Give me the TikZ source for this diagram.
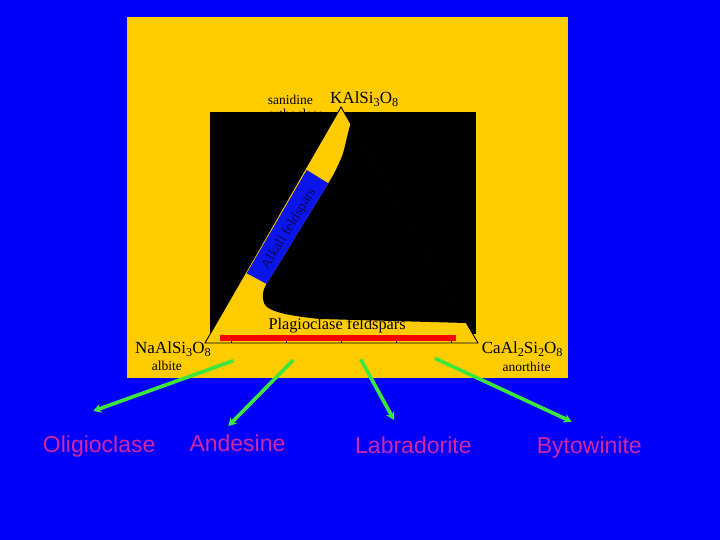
\documentclass[tikz,border=0pt]{standalone}
\usepackage{fontspec}
\setmainfont{Liberation Serif}
\newfontfamily\arialf{Liberation Sans}
\usetikzlibrary{arrows.meta}
\definecolor{bgblue}{RGB}{0,0,250}
\definecolor{gold}{RGB}{255,204,0}
\definecolor{bandblue}{RGB}{10,20,235}
\definecolor{garrow}{RGB}{60,230,60}
\definecolor{mag}{RGB}{205,40,165}
\definecolor{navy}{RGB}{10,10,90}
\newcommand\sbs[1]{\raisebox{-0.4ex}{\scalebox{0.72}{#1}}}
\newcommand\fs[1]{\fontsize{#1}{#1}\selectfont}
\tikzset{
  serif/.style={inner sep=0pt, text=black},
  lab/.style={inner sep=0pt, text=mag, font=\arialf\fs{23}, anchor=base west},
  garr/.style={draw=garrow, line width=3.6pt, -{Stealth[length=8pt,width=9pt]}},
}
\begin{document}
\begin{tikzpicture}[x=1pt,y=-1pt]
\useasboundingbox (0,0) rectangle (720,540);
\fill[bgblue] (0,0) rectangle (720,540);
\fill[gold] (127,17) rectangle (568,378);
% orthoclase label (mostly hidden)
\node[serif, anchor=base west, font=\fs{13.5}] (orth) at (268,119) {orthoclase};
% black rectangle
\fill[black] (210,112) rectangle (476,334);
% triangle
\coordinate (Na) at (205,343);
\coordinate (K) at (341,107);
\coordinate (Ca) at (478,343);
\fill[gold] (Na) -- (K) -- (Ca) -- cycle;
% miscibility gap
\fill[black] (350.5,123.5) .. controls (346,140) and (344,152) .. (341.7,157)
  .. controls (337,168) and (333,176) .. (328.3,183.3)
  -- (266.7,284) .. controls (262,290) and (262,300) .. (265,305)
  .. controls (270,312) and (290,316) .. (320,319)
  -- (466.4,323) -- cycle;
% alkali feldspar band
\fill[bandblue] (306.7,170) -- (328.3,183.3) -- (266.7,284) -- (246.7,273.3) -- cycle;
\node[inner sep=0pt, text=navy, font=\fs{14.5}, rotate=58.7] (alk) at (289,229) {Alkali feldspars};
% triangle outline
\draw[black, line width=0.9pt] (Na) -- (K) -- (Ca) -- cycle;
\foreach \t in {231.7,286.7,341.7,396.7,451.7}{\draw[black, line width=0.8pt] (\t,343) -- (\t,339.5);}
\fill[red] (220,335) rectangle (456,340.5);
% texts
\node[serif, anchor=base west, font=\fs{13.5}] (san) at (267.7,105) {sanidine};
\node[serif, anchor=base west, font=\fs{17}] (kal) at (330,103.3) {KAlSi\sbs{3}O\sbs{8}};
\node[serif, anchor=base west, font=\fs{17}] (naal) at (135,353) {NaAlSi\sbs{3}O\sbs{8}};
\node[serif, anchor=base west, font=\fs{13.5}] (alb) at (151.7,370) {albite};
\node[serif, anchor=base west, font=\fs{17}] (caal) at (481.7,353) {CaAl\sbs{2}Si\sbs{2}O\sbs{8}};
\node[serif, anchor=base west, font=\fs{13.5}] (ano) at (502.3,371) {anorthite};
\node[serif, anchor=base west, font=\fs{16.3}] (plag) at (268.3,329.5) {Plagioclase feldspars};
% labels
\node[lab] (oli) at (42.7,452) {Oligioclase};
\node[lab] (and) at (189.3,451.7) {Andesine};
\node[lab] (lab) at (355,453.3) {Labradorite};
\node[lab] (byt) at (536.7,453) {Bytowinite};
% arrows
\coordinate (s1) at (233.3,360.7); \coordinate (e1) at (93.3,411);
\coordinate (s2) at (293.3,360); \coordinate (e2) at (228.3,426);
\coordinate (s3) at (360.7,359.3); \coordinate (e3) at (394,420);
\coordinate (s4) at (435,358.3); \coordinate (e4) at (571.7,421.7);
\draw[garr] (s1) -- (e1);
\draw[garr] (s2) -- (e2);
\draw[garr] (s3) -- (e3);
\draw[garr] (s4) -- (e4);
\end{tikzpicture}
\end{document}
